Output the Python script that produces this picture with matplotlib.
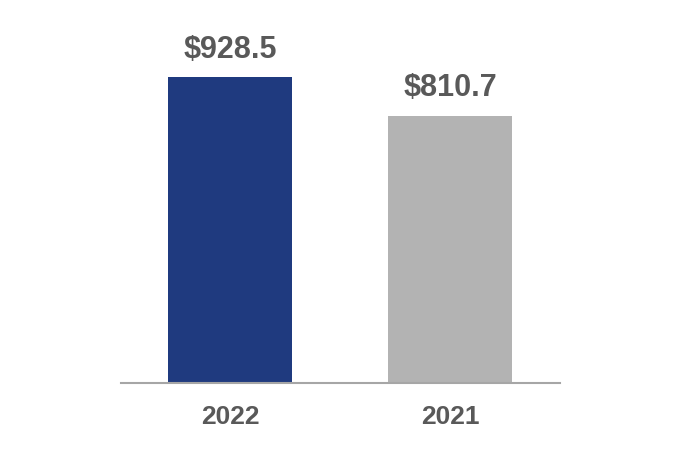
import matplotlib
matplotlib.use("Agg")
import matplotlib.pyplot as plt

years = ["2022", "2021"]
values = [928.5, 810.7]
bar_colors = ["#1F3A7F", "#B3B3B3"]

plt.rcParams["font.family"] = ["Liberation Sans", "DejaVu Sans"]

fig = plt.figure(figsize=(6.8, 4.5), dpi=100)
ax = fig.add_axes([121 / 680, 67 / 450, 439 / 680, 363 / 450])

x = range(len(years))
bars = ax.bar(x, values, width=0.564, color=bar_colors)
ax.set_xlim(-0.495, 1.5)
ax.set_ylim(0, 1101.5)

for rect, v in zip(bars, values):
    ax.annotate(f"${v:.1f}", (rect.get_x() + rect.get_width() / 2, v),
                xytext=(0, 9), textcoords="offset points",
                ha="center", va="bottom", fontsize=22, fontweight="bold", color="#595959")

ax.set_xticks(list(x))
ax.set_xticklabels(years, fontsize=19, fontweight="bold", color="#595959")
ax.tick_params(axis="x", length=0, pad=16)
ax.set_yticks([])
for side in ["top", "right", "left"]:
    ax.spines[side].set_visible(False)
ax.spines["bottom"].set_color("#A6A6A6")
ax.spines["bottom"].set_linewidth(1.5)

fig.savefig("out.png", dpi=100)
